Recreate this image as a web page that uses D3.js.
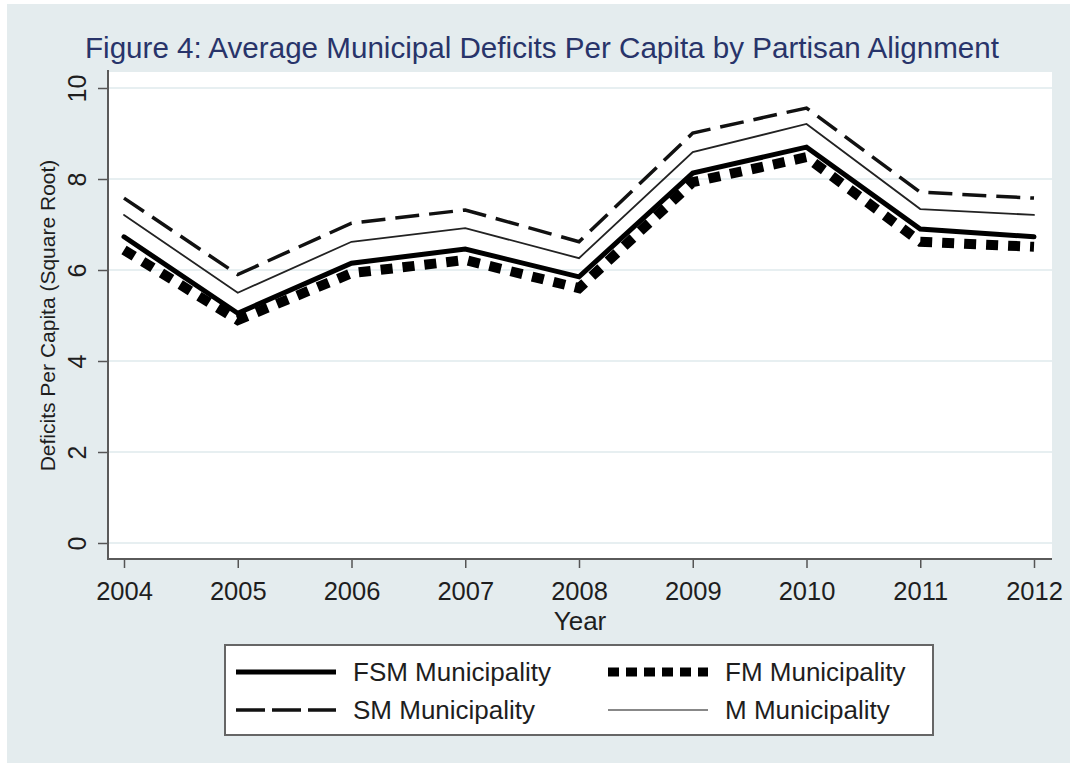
<!DOCTYPE html>
<html>
<head>
<meta charset="utf-8">
<script src="https://cdn.jsdelivr.net/npm/d3@7"></script>
<style>
  html, body { margin: 0; padding: 0; background: #ffffff; }
  svg { display: block; }
  text { font-family: "Liberation Sans", Arial, Helvetica, sans-serif; }
</style>
</head>
<body>
<svg id="chart" width="1070" height="763"></svg>
<script>
// Years on the x axis
const years = [2004, 2005, 2006, 2007, 2008, 2009, 2010, 2011, 2012];

// Average municipal deficits per capita (square root), by alignment group
const fsmValues = [6.73, 5.05, 6.15, 6.46, 5.85, 8.13, 8.70, 6.90, 6.73];
const fmValues  = [6.44, 4.90, 5.93, 6.22, 5.60, 7.93, 8.48, 6.62, 6.51];
const smValues  = [7.58, 5.90, 7.03, 7.32, 6.62, 9.01, 9.56, 7.71, 7.58];
const mValues   = [7.21, 5.50, 6.62, 6.92, 6.26, 8.59, 9.21, 7.34, 7.21];

// Axis tick labels
const yTicks = [0, 2, 4, 6, 8, 10];
const xTicks = years;

const seriesNames = ["FSM Municipality", "FM Municipality", "SM Municipality", "M Municipality"];

const svg = d3.select("#chart");
const W = 1070, H = 763;
const plot = { left: 108, right: 1052, top: 72, bottom: 559 };

const x = d3.scaleLinear().domain([2004, 2012]).range([124, 1034]);
const y = d3.scaleLinear().domain([0, 10]).range([543, 88]);

// Graph region background
svg.append("rect").attr("x", 0).attr("y", 0).attr("width", W).attr("height", H).attr("fill", "#ffffff");
svg.append("rect").attr("x", 7).attr("y", 4).attr("width", W - 7).attr("height", H - 4).attr("fill", "#e4ecee");

// Plot region
svg.append("rect")
  .attr("x", plot.left).attr("y", plot.top)
  .attr("width", plot.right - plot.left).attr("height", plot.bottom - plot.top)
  .attr("fill", "#ffffff");

// Horizontal grid lines
svg.append("g").selectAll("line").data(yTicks).join("line")
  .attr("x1", plot.left).attr("x2", plot.right)
  .attr("y1", d => y(d)).attr("y2", d => y(d))
  .attr("stroke", "#e7eff1").attr("stroke-width", 2);

// Title
svg.append("text")
  .attr("x", 542).attr("y", 58)
  .attr("text-anchor", "middle")
  .attr("font-size", 29.6)
  .attr("fill", "#28346a")
  .text("Figure 4: Average Municipal Deficits Per Capita by Partisan Alignment");

// Y axis
const yAxis = d3.axisLeft(y).tickValues(yTicks).tickSize(10).tickPadding(0).tickFormat(d3.format("d"));
const gy = svg.append("g").attr("transform", `translate(${plot.left},0)`).call(yAxis);
gy.select(".domain").remove();
gy.selectAll(".tick line").attr("stroke", "#555").attr("stroke-width", 1.5);
gy.selectAll(".tick text")
  .attr("x", null).attr("dy", null)
  .attr("text-anchor", "middle")
  .attr("transform", "translate(-22,0) rotate(-90)")
  .attr("font-size", 25)
  .attr("fill", "#1e1e1e");
svg.append("line")
  .attr("x1", plot.left).attr("x2", plot.left)
  .attr("y1", plot.top - 2).attr("y2", plot.bottom + 1)
  .attr("stroke", "#5a5a5a").attr("stroke-width", 2);

// X axis
const xAxis = d3.axisBottom(x).tickValues(xTicks).tickSize(9).tickPadding(6).tickFormat(d3.format("d"));
const gx = svg.append("g").attr("transform", `translate(0,${plot.bottom})`).call(xAxis);
gx.select(".domain").remove();
gx.selectAll(".tick line").attr("stroke", "#555").attr("stroke-width", 1.5);
gx.selectAll(".tick text")
  .attr("dy", null).attr("y", 41)
  .attr("font-size", 25.5)
  .attr("fill", "#1e1e1e");
svg.append("line")
  .attr("x1", plot.left - 1).attr("x2", plot.right)
  .attr("y1", plot.bottom).attr("y2", plot.bottom)
  .attr("stroke", "#5a5a5a").attr("stroke-width", 2);

// Axis titles
svg.append("text")
  .attr("transform", `translate(55,${(plot.top + plot.bottom) / 2}) rotate(-90)`)
  .attr("text-anchor", "middle")
  .attr("font-size", 21)
  .attr("fill", "#1e1e1e")
  .text("Deficits Per Capita (Square Root)");
svg.append("text")
  .attr("x", (plot.left + plot.right) / 2).attr("y", 630)
  .attr("text-anchor", "middle")
  .attr("font-size", 26)
  .attr("fill", "#1e1e1e")
  .text("Year");

// Line styles for each series
const styles = [
  { name: seriesNames[0], values: fsmValues, stroke: "#000", width: 5, dash: null, cap: "round" },
  { name: seriesNames[1], values: fmValues,  stroke: "#000", width: 10, dash: "12 10", cap: "butt" },
  { name: seriesNames[2], values: smValues,  stroke: "#111", width: 3.5, dash: "24 10", cap: "butt" },
  { name: seriesNames[3], values: mValues,   stroke: "#222", width: 1.8, dash: null, cap: "round" }
];

const line = d3.line().x((d, i) => x(years[i])).y(d => y(d));

const gLines = svg.append("g");
styles.forEach(s => {
  gLines.append("path")
    .datum(s.values)
    .attr("d", line)
    .attr("fill", "none")
    .attr("stroke", s.stroke)
    .attr("stroke-width", s.width)
    .attr("stroke-dasharray", s.dash)
    .attr("stroke-linecap", s.cap)
    .attr("stroke-linejoin", "miter");
});

// Legend
const legend = svg.append("g");
legend.append("rect")
  .attr("x", 225).attr("y", 645).attr("width", 708).attr("height", 90)
  .attr("fill", "#ffffff").attr("stroke", "#666").attr("stroke-width", 2);

const legendItems = [
  { s: styles[0], col: 0, row: 0 },
  { s: styles[1], col: 1, row: 0 },
  { s: styles[2], col: 0, row: 1 },
  { s: styles[3], col: 1, row: 1 }
];
const colX = [236, 608];
const rowY = [672, 710];

legendItems.forEach(it => {
  const x0 = colX[it.col], yy = rowY[it.row];
  legend.append("line")
    .attr("x1", x0).attr("x2", x0 + 100)
    .attr("y1", yy).attr("y2", yy)
    .attr("stroke", it.s.name === "M Municipality" ? "#888" : it.s.stroke)
    .attr("stroke-width", it.s.name === "FM Municipality" ? 9 : it.s.width)
    .attr("stroke-dasharray", it.s.name === "SM Municipality" ? "29 7" : (it.s.name === "FM Municipality" ? "11 7" : null));
  legend.append("text")
    .attr("x", x0 + 117).attr("y", yy + 9)
    .attr("font-size", 26)
    .attr("fill", "#1e1e1e")
    .text(it.s.name);
});
</script>
</body>
</html>
